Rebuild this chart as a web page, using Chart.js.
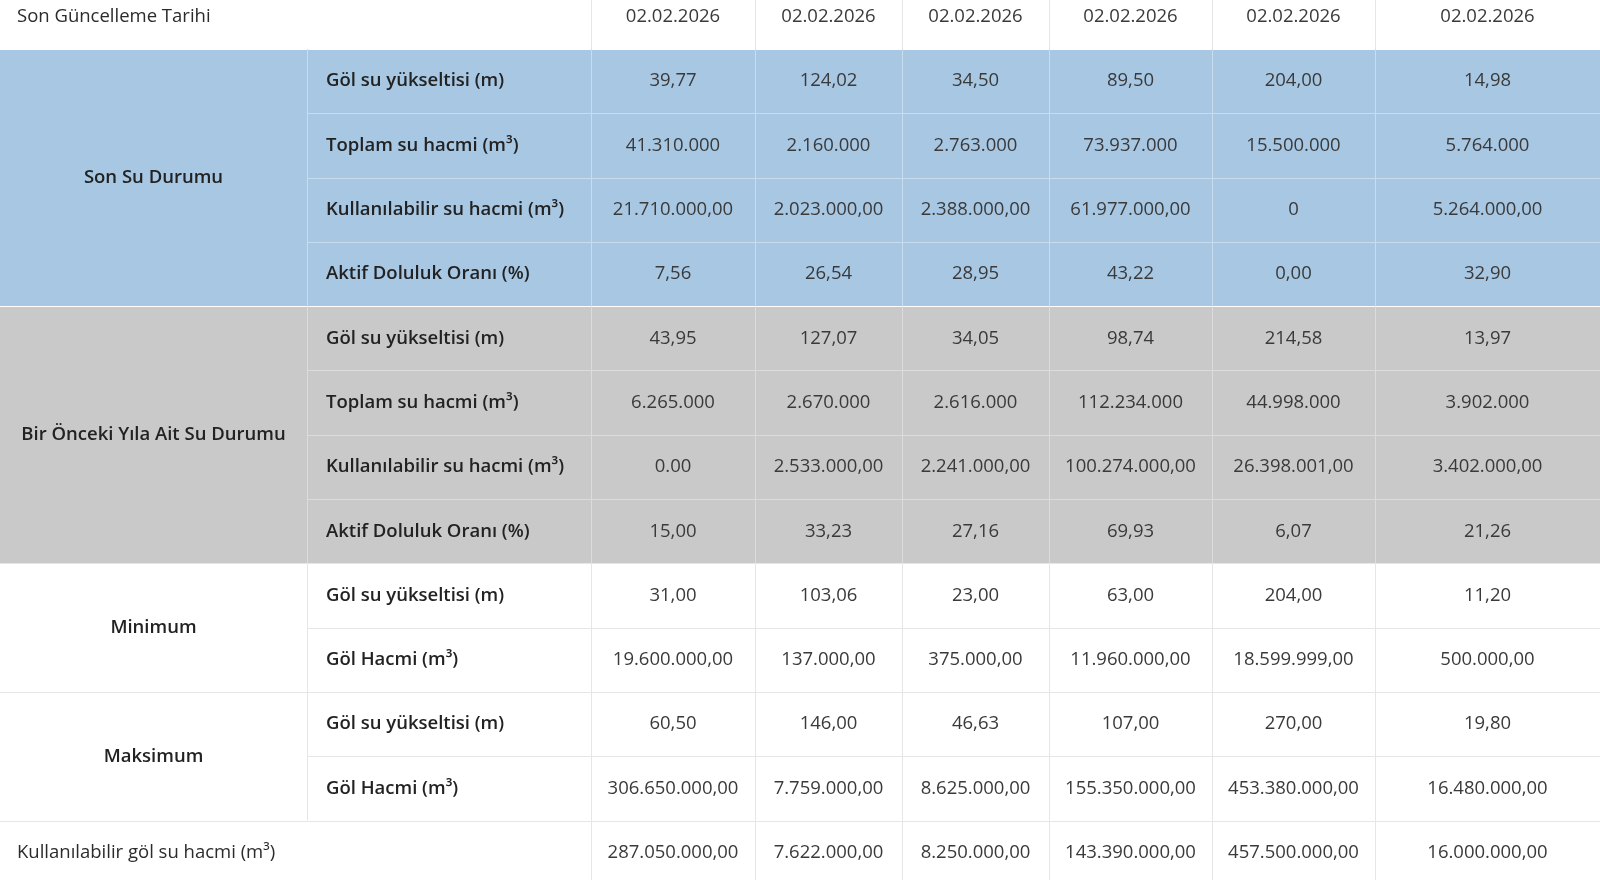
<!DOCTYPE html>
<html><head><meta charset="utf-8">
<script src="https://cdn.jsdelivr.net/npm/chart.js@4"></script>
<style>html,body{margin:0;padding:0;background:#fff}#wrap{width:1600px;height:880px}</style>
</head><body><div id="wrap"><canvas id="tbl"></canvas></div>
<script>
// table content
const headerLabel = 'Son Güncelleme Tarihi';
const dates = ['02.02.2026','02.02.2026','02.02.2026','02.02.2026','02.02.2026','02.02.2026'];
const groups = [
  { name: 'Son Su Durumu', rows: 4, color: '#a7c7e3', line: '#c9ddef' },
  { name: 'Bir Önceki Yıla Ait Su Durumu', rows: 4, color: '#c9c9c9', line: '#dcdcdc' },
  { name: 'Minimum', rows: 2, color: '#ffffff', line: '#e6e6e6' },
  { name: 'Maksimum', rows: 2, color: '#ffffff', line: '#e6e6e6' }
];
const rowLabels = [
  'Göl su yükseltisi (m)','Toplam su hacmi (m³)','Kullanılabilir su hacmi (m³)','Aktif Doluluk Oranı (%)',
  'Göl su yükseltisi (m)','Toplam su hacmi (m³)','Kullanılabilir su hacmi (m³)','Aktif Doluluk Oranı (%)',
  'Göl su yükseltisi (m)','Göl Hacmi (m³)',
  'Göl su yükseltisi (m)','Göl Hacmi (m³)'
];
const values = [
  ['39,77','124,02','34,50','89,50','204,00','14,98'],
  ['41.310.000','2.160.000','2.763.000','73.937.000','15.500.000','5.764.000'],
  ['21.710.000,00','2.023.000,00','2.388.000,00','61.977.000,00','0','5.264.000,00'],
  ['7,56','26,54','28,95','43,22','0,00','32,90'],
  ['43,95','127,07','34,05','98,74','214,58','13,97'],
  ['6.265.000','2.670.000','2.616.000','112.234.000','44.998.000','3.902.000'],
  ['0.00','2.533.000,00','2.241.000,00','100.274.000,00','26.398.001,00','3.402.000,00'],
  ['15,00','33,23','27,16','69,93','6,07','21,26'],
  ['31,00','103,06','23,00','63,00','204,00','11,20'],
  ['19.600.000,00','137.000,00','375.000,00','11.960.000,00','18.599.999,00','500.000,00'],
  ['60,50','146,00','46,63','107,00','270,00','19,80'],
  ['306.650.000,00','7.759.000,00','8.625.000,00','155.350.000,00','453.380.000,00','16.480.000,00']
];
const footerLabel = 'Kullanılabilir göl su hacmi (m³)';
const footerValues = ['287.050.000,00','7.622.000,00','8.250.000,00','143.390.000,00','457.500.000,00','16.000.000,00'];

// column edges in x-scale units
const colEdges = [0, 307, 591, 755, 902, 1049, 1212, 1375, 1600];
const FONT = '"Open Sans", Lato, sans-serif';

const tablePlugin = {
  id: 'tablePlugin',
  afterDraw(chart) {
    const ctx = chart.ctx, xs = chart.scales.x, ys = chart.scales.y;
    const X = v => xs.getPixelForValue(v);
    const top = i => ys.getPixelForValue(i - 0.5);
    const bot = i => ys.getPixelForValue(i + 0.5);
    const mid = i => ys.getPixelForValue(i);
    ctx.save();
    ctx.textBaseline = 'middle';

    function hline(y, x0, x1, c) { ctx.fillStyle = c; ctx.fillRect(X(x0), Math.round(y), X(x1) - X(x0), 1); }
    function vline(x, y0, y1, c) { ctx.fillStyle = c; ctx.fillRect(Math.round(X(x)), y0, 1, y1 - y0); }
    function valueRow(r, vals, color) {
      ctx.font = '400 18.5px ' + FONT;
      ctx.fillStyle = color;
      ctx.textAlign = 'center';
      vals.forEach((v, j) => ctx.fillText(v, (X(colEdges[j + 2]) + X(colEdges[j + 3])) / 2, mid(r)));
    }

    // header row
    ctx.font = '400 18.5px ' + FONT; ctx.fillStyle = '#2b2b2b'; ctx.textAlign = 'left';
    ctx.fillText(headerLabel, 17, mid(0));
    valueRow(0, dates, '#3a3a3a');
    for (let k = 2; k < colEdges.length - 1; k++) vline(colEdges[k], top(0), bot(0), '#e6e6e6');

    let r = 1, li = 0;
    groups.forEach(g => {
      const y0 = top(r), y1 = bot(r + g.rows - 1);
      ctx.fillStyle = g.color;
      ctx.fillRect(0, y0, X(1600), y1 - y0);
      hline(y0, 0, 1600, g.color === '#ffffff' ? '#e6e6e6' : '#ffffff');
      ctx.font = '600 18.5px ' + FONT; ctx.fillStyle = '#222'; ctx.textAlign = 'center';
      ctx.fillText(g.name, X(colEdges[1]) / 2, (y0 + y1) / 2);
      for (let k = 1; k < colEdges.length - 1; k++) vline(colEdges[k], y0, y1, g.line);
      for (let i = 0; i < g.rows; i++, r++, li++) {
        if (i > 0) hline(top(r), colEdges[1], 1600, g.line);
        ctx.font = '600 18.5px ' + FONT; ctx.fillStyle = '#222'; ctx.textAlign = 'left';
        ctx.fillText(rowLabels[li], X(colEdges[1]) + 19, mid(r));
        valueRow(r, values[li], '#3a3a3a');
      }
    });
    // footer
    hline(top(r), 0, 1600, '#e6e6e6');
    ctx.font = '400 18.5px ' + FONT; ctx.fillStyle = '#2b2b2b'; ctx.textAlign = 'left';
    ctx.fillText(footerLabel, 17, mid(r));
    valueRow(r, footerValues, '#3a3a3a');
    for (let k = 2; k < colEdges.length - 1; k++) vline(colEdges[k], top(r), bot(r), '#e6e6e6');
    ctx.restore();
  }
};

new Chart(document.getElementById('tbl'), {
  type: 'scatter',
  data: { datasets: [{ data: [] }] },
  options: {
    responsive: true, maintainAspectRatio: false, animation: false,
    layout: { padding: 0 },
    scales: {
      x: { type: 'linear', min: 0, max: 1600, display: false },
      y: { type: 'linear', reverse: true, min: -0.262, max: 13.424, display: false }
    },
    plugins: { legend: { display: false }, tooltip: { enabled: false } }
  },
  plugins: [tablePlugin]
});
</script></body></html>
